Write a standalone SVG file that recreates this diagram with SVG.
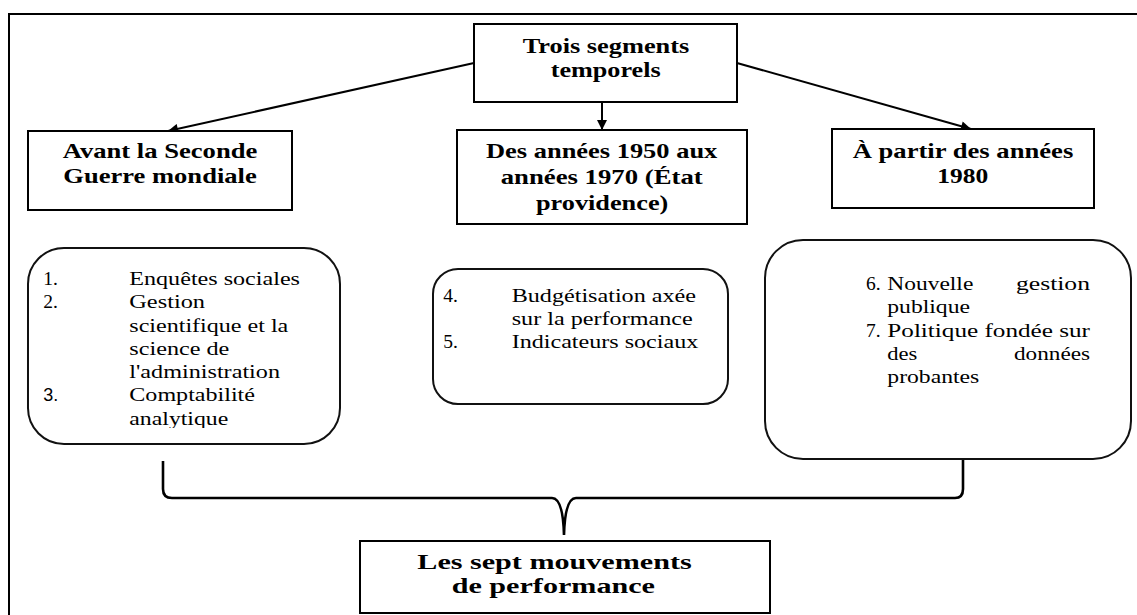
<svg xmlns="http://www.w3.org/2000/svg" width="1137" height="615" viewBox="0 0 1137 615">
<style>
.box{fill:#fff;stroke:#000;stroke-width:2}
.rbox{fill:#fff;stroke:#111;stroke-width:2}
.t{font-weight:bold;font-size:22px;fill:#000}
.b{font-size:19.5px;fill:#000}
.n3{font-size:18px;fill:#000}
.c{fill:none;stroke:#000;stroke-width:2}
.br{fill:none;stroke:#000;stroke-width:2.6}
</style>
<defs>
<marker id="ah" viewBox="0 0 10 10" refX="10" refY="5" markerWidth="11" markerHeight="10" markerUnits="userSpaceOnUse" orient="auto">
<path d="M0,0 L10,5 L0,10 z" fill="#000"/>
</marker>
<clipPath id="clipL"><rect x="20" y="240" width="330" height="188"/></clipPath>
</defs>
<rect width="1137" height="615" fill="#fff"/>
<path d="M9,615 L9,14 L1137,14" fill="none" stroke="#000" stroke-width="2"/>

<g id="connectors">
<line class="c" x1="474" y1="63" x2="168" y2="131" marker-end="url(#ah)"/>
<line class="c" x1="602" y1="102" x2="602" y2="130" marker-end="url(#ah)"/>
<line class="c" x1="737" y1="63" x2="971" y2="129" marker-end="url(#ah)"/>
<path class="br" d="M163,461 L163,489 Q163,498 172,498 L552,498 Q563,498 564,535 Q565,498 576,498 L955,498 Q963,498 963,489 L963,459"/>
</g>

<g font-family="Liberation Serif, Times New Roman, serif">
<g id="top">
<rect class="box" x="474" y="24" width="263" height="78"/>
<text class="t" x="522.7" y="53.3" textLength="166.6" lengthAdjust="spacingAndGlyphs">Trois segments</text>
<text class="t" x="550.7" y="77.3" textLength="110" lengthAdjust="spacingAndGlyphs">temporels</text>
</g>

<g id="left">
<rect class="box" x="28" y="131" width="264" height="79"/>
<text class="t" x="62.7" y="158.3" textLength="194.6" lengthAdjust="spacingAndGlyphs">Avant la Seconde</text>
<text class="t" x="63.3" y="183.3" textLength="193.4" lengthAdjust="spacingAndGlyphs">Guerre mondiale</text>
</g>

<g id="center">
<rect class="box" x="457" y="130" width="290" height="94"/>
<text class="t" x="486" y="158.3" textLength="231.3" lengthAdjust="spacingAndGlyphs">Des années 1950 aux</text>
<text class="t" x="500.7" y="184.3" textLength="202" lengthAdjust="spacingAndGlyphs">années 1970 (État</text>
<text class="t" x="536" y="210" textLength="132.3" lengthAdjust="spacingAndGlyphs">providence)</text>
</g>

<g id="right">
<rect class="box" x="832" y="129" width="262" height="79"/>
<text class="t" x="852.7" y="157.7" textLength="220.6" lengthAdjust="spacingAndGlyphs">À partir des années</text>
<text class="t" x="937.3" y="182.7" textLength="51" lengthAdjust="spacingAndGlyphs">1980</text>
</g>

<g id="list-left">
<rect class="rbox" x="28" y="248" width="312" height="196" rx="36" ry="36"/>
<g clip-path="url(#clipL)">
<text class="b" x="43.3" y="285">1.</text>
<text class="b" x="129.3" y="285" textLength="170.7" lengthAdjust="spacingAndGlyphs">Enquêtes sociales</text>
<text class="b" x="43.3" y="308.3">2.</text>
<text class="b" x="129.3" y="308.3" textLength="75.7" lengthAdjust="spacingAndGlyphs">Gestion</text>
<text class="b" x="129.3" y="331.7" textLength="159" lengthAdjust="spacingAndGlyphs">scientifique et la</text>
<text class="b" x="129.3" y="355" textLength="100" lengthAdjust="spacingAndGlyphs">science de</text>
<text class="b" x="129.3" y="377.7" textLength="150.7" lengthAdjust="spacingAndGlyphs">l'administration</text>
<text class="n3" x="43.3" y="401" font-family="Liberation Sans, Arial, sans-serif">3.</text>
<text class="b" x="129.3" y="401" textLength="125.7" lengthAdjust="spacingAndGlyphs">Comptabilité</text>
<text class="b" x="129.3" y="424.5" textLength="99" lengthAdjust="spacingAndGlyphs">analytique</text>
</g>
</g>

<g id="list-center">
<rect class="rbox" x="433" y="269" width="295" height="135" rx="25" ry="25"/>
<text class="b" x="443.3" y="301.7">4.</text>
<text class="b" x="511.7" y="301.7" textLength="184.3" lengthAdjust="spacingAndGlyphs">Budgétisation axée</text>
<text class="b" x="511.7" y="325" textLength="181" lengthAdjust="spacingAndGlyphs">sur la performance</text>
<text class="b" x="443.3" y="348.3">5.</text>
<text class="b" x="511.7" y="348.3" textLength="186.6" lengthAdjust="spacingAndGlyphs">Indicateurs sociaux</text>
</g>

<g id="list-right">
<rect class="rbox" x="765" y="240" width="366" height="219" rx="38" ry="38"/>
<text class="b" x="866" y="290">6.</text>
<text class="b" x="887.3" y="290" textLength="86" lengthAdjust="spacingAndGlyphs">Nouvelle</text>
<text class="b" x="1016" y="290" textLength="74" lengthAdjust="spacingAndGlyphs">gestion</text>
<text class="b" x="887.3" y="313.3" textLength="82.7" lengthAdjust="spacingAndGlyphs">publique</text>
<text class="b" x="866" y="336.7">7.</text>
<text class="b" x="887.3" y="336.7" textLength="202.7" lengthAdjust="spacingAndGlyphs">Politique fondée sur</text>
<text class="b" x="887.3" y="360" textLength="30" lengthAdjust="spacingAndGlyphs">des</text>
<text class="b" x="1014" y="360" textLength="76" lengthAdjust="spacingAndGlyphs">données</text>
<text class="b" x="887.3" y="382.7" textLength="92" lengthAdjust="spacingAndGlyphs">probantes</text>
</g>

<g id="bottom">
<rect class="box" x="360" y="541" width="410" height="72"/>
<text class="t" x="417.3" y="569.3" textLength="274.4" lengthAdjust="spacingAndGlyphs">Les sept mouvements</text>
<text class="t" x="451.7" y="593.3" textLength="203.3" lengthAdjust="spacingAndGlyphs">de performance</text>
</g>
</g>
</svg>
